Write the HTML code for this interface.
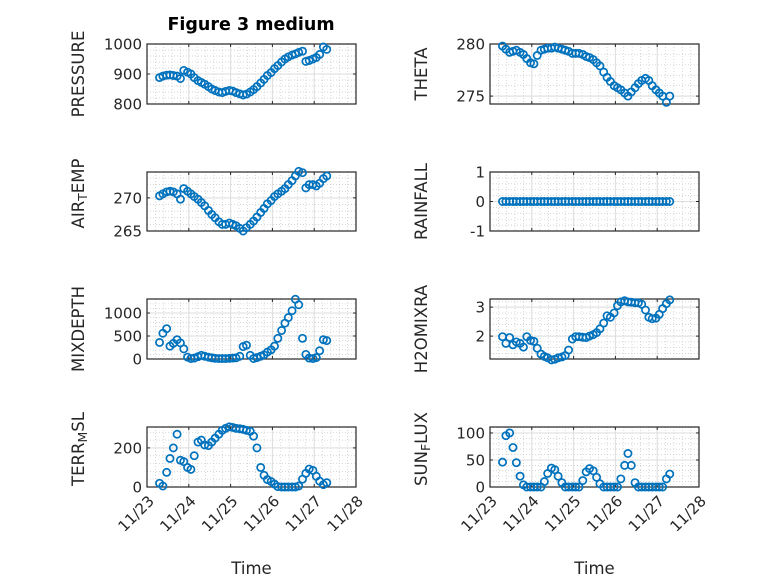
<!DOCTYPE html>
<html><head><meta charset="utf-8"><style>
html,body{margin:0;padding:0;background:#fff;}
svg{display:block;font-family:"DejaVu Sans","Liberation Sans",sans-serif;}
</style></head><body>
<svg id="fig" width="778" height="583" viewBox="0 0 778 583" xmlns="http://www.w3.org/2000/svg">
<rect width="778" height="583" fill="#fff"/>
<text x="251" y="30" text-anchor="middle" font-size="17.5" font-weight="bold" fill="#000">Figure 3 medium</text>
</svg>
<script>
const times = [0.30,0.38,0.47,0.55,0.63,0.72,0.80,0.88,0.97,1.05,1.13,1.22,1.30,1.38,1.47,1.55,1.63,1.72,1.80,1.88,1.97,2.05,2.13,2.22,2.30,2.38,2.47,2.55,2.63,2.72,2.80,2.88,2.97,3.05,3.13,3.22,3.30,3.38,3.47,3.55,3.63,3.72,3.80,3.88,3.97,4.05,4.13,4.22,4.30];
const xTickLabels = ["11/23","11/24","11/25","11/26","11/27","11/28"];
const pressure = [888,893,896,897,895,893,885,912,906,900,888,878,872,866,858,850,845,840,838,842,845,843,838,834,830,833,840,848,858,870,882,895,905,918,928,940,950,957,963,967,972,976,942,945,950,955,965,990,982];
const airTemp = [270.3,270.6,270.9,271.0,270.9,270.6,269.8,271.4,271.0,270.6,270.2,269.8,269.3,268.8,268.1,267.5,267.0,266.4,266.0,266.0,266.2,266.0,265.8,265.4,265.0,265.5,266.0,266.5,267.1,267.8,268.4,269.1,269.6,270.2,270.6,271.0,271.4,272.0,272.6,273.3,274.0,273.8,271.5,272.0,272.0,271.8,272.2,272.9,273.3];
const mixDepth = [360,560,660,280,340,420,350,220,40,10,20,50,80,60,40,25,15,10,10,10,15,20,25,60,270,300,80,10,30,60,90,150,200,280,450,620,780,900,1050,1300,1180,450,100,20,10,30,180,420,400];
const terrMsl = [19,5,75,146,200,270,137,130,100,90,160,230,240,215,212,230,250,270,290,300,308,305,300,298,295,290,285,260,200,100,60,38,28,15,2,0,0,0,0,0,5,40,70,92,85,55,30,12,22];
const theta = [279.8,279.5,279.2,279.3,279.4,279.2,279.0,278.6,278.2,278.1,278.9,279.4,279.5,279.6,279.6,279.7,279.6,279.5,279.4,279.3,279.1,279.1,279.1,279.0,278.8,278.7,278.5,278.2,277.9,277.3,276.8,276.4,276.0,275.8,275.6,275.3,275.0,275.4,275.8,276.2,276.5,276.7,276.5,276.0,275.6,275.3,275.0,274.4,275.0];
const rainfall = [0,0,0,0,0,0,0,0,0,0,0,0,0,0,0,0,0,0,0,0,0,0,0,0,0,0,0,0,0,0,0,0,0,0,0,0,0,0,0,0,0,0,0,0,0,0,0,0,0];
const h2oMix = [1.98,1.75,1.95,1.70,1.80,1.75,1.62,1.98,1.85,1.82,1.58,1.38,1.30,1.25,1.18,1.20,1.25,1.28,1.33,1.52,1.90,1.98,1.98,1.96,1.95,2.00,2.05,2.12,2.25,2.45,2.70,2.65,2.80,3.05,3.18,3.22,3.18,3.17,3.15,3.15,3.10,2.90,2.65,2.60,2.62,2.75,2.95,3.12,3.25];
const sunFlux = [46,95,100,73,45,20,4,0,0,0,0,0,10,25,35,32,20,8,0,0,0,0,0,12,28,34,30,18,6,0,0,0,0,0,15,40,62,40,8,0,0,0,0,0,0,0,0,15,24];
const pressureTicks = [800,900,1000];
const airTempTicks = [265,270];
const mixDepthTicks = [0,500,1000];
const terrTicks = [0,200];
const thetaTicks = [275,280];
const rainTicks = [-1,0,1];
const h2oTicks = [2,3];
const sunTicks = [0,50,100];

const NS = "http://www.w3.org/2000/svg";
const svg = document.getElementById('fig');
function mk(tag, attrs, parent){
  const e = document.createElementNS(NS, tag);
  for (const k in attrs) e.setAttribute(k, attrs[k]);
  (parent||svg).appendChild(e);
  return e;
}
const cols = [147, 490];
const rows = [[44,104],[172,231],[299,359],[427,487]];
const W = 209;
const panels = [
  {key:'pressure', col:0,row:0,data:pressure,ticks:pressureTicks,ylim:[800,1000],minor:20,label:[['PRESSURE','']]},
  {key:'air-temp', col:0,row:1,data:airTemp,ticks:airTempTicks,ylim:[265,273.9],minor:1,label:[['AIR',''],['T','sub'],['EMP','']]},
  {key:'mixdepth', col:0,row:2,data:mixDepth,ticks:mixDepthTicks,ylim:[0,1305],minor:100,label:[['MIXDEPTH','']]},
  {key:'terr-msl', col:0,row:3,data:terrMsl,ticks:terrTicks,ylim:[0,307],minor:40,label:[['TERR',''],['M','sub'],['SL','']]},
  {key:'theta', col:1,row:0,data:theta,ticks:thetaTicks,ylim:[274.24,280],minor:1,label:[['THETA','']]},
  {key:'rainfall', col:1,row:1,data:rainfall,ticks:rainTicks,ylim:[-1,1],minor:0.2,label:[['RAINFALL','']]},
  {key:'h2omixra', col:1,row:2,data:h2oMix,ticks:h2oTicks,ylim:[1.21,3.28],minor:0.2,label:[['H2OMIXRA','']]},
  {key:'sun-flux', col:1,row:3,data:sunFlux,ticks:sunTicks,ylim:[0,111],minor:10,label:[['SUN',''],['F','sub'],['LUX','']]}
];
panels.forEach(p=>{
  const x0 = cols[p.col], x1 = x0+W, y0 = rows[p.row][0], y1 = rows[p.row][1];
  const g = mk('g',{});
  
  
  const xs = t => x0 + t/5*W;
  const ys = v => y1 - (v-p.ylim[0])/(p.ylim[1]-p.ylim[0])*(y1-y0);
  for (let d=0; d<5; d++) for (let k=1;k<5;k++){
    const x = xs(d+k/5);
    const l = mk('line',{x1:x,x2:x,y1:y0,y2:y1,stroke:'#c8c8c8','stroke-width':0.7,'stroke-dasharray':'1,2'},g);
    
    
  }
  const m0 = Math.ceil(p.ylim[0]/p.minor)*p.minor;
  for (let v=m0; v<=p.ylim[1]+1e-9; v+=p.minor){
    const y = ys(v);
    const l = mk('line',{x1:x0,x2:x1,y1:y,y2:y,stroke:'#c8c8c8','stroke-width':0.7,'stroke-dasharray':'1,2'},g);
    
    
  }
  for (let d=1; d<5; d++){
    const x = xs(d);
    const l = mk('line',{x1:x,x2:x,y1:y0,y2:y1,stroke:'#dcdcdc','stroke-width':1},g);
    
    
    mk('line',{x1:x,x2:x,y1:y1,y2:y1-3,stroke:'#262626','stroke-width':1},g);
    mk('line',{x1:x,x2:x,y1:y0,y2:y0+3,stroke:'#262626','stroke-width':1},g);
  }
  p.ticks.forEach(v=>{
    const y = ys(v);
    const l = mk('line',{x1:x0,x2:x1,y1:y,y2:y,stroke:'#dcdcdc','stroke-width':1},g);
    
    
    mk('line',{x1:x0,x2:x0+3,y1:y,y2:y,stroke:'#262626','stroke-width':1},g);
    mk('line',{x1:x1,x2:x1-3,y1:y,y2:y,stroke:'#262626','stroke-width':1},g);
    const t = mk('text',{x:x0-5,y:y+5.5,'text-anchor':'end','font-size':15,fill:'#262626'},g);
    
    
    t.textContent = String(v);
  });
  const box = mk('rect',{x:x0,y:y0,width:W,height:y1-y0,fill:'none',stroke:'#262626','stroke-width':1.2},g);
  
  
  const lx = x0-63, ly = (y0+y1)/2 + (p.label.length>1 ? -8 : 0);
  const lab = mk('text',{x:lx,y:ly,'text-anchor':'middle','font-size':16.5,fill:'#262626',transform:'rotate(-90 '+lx+' '+ly+')'},g);
  
  
  p.label.forEach(part=>{
    const ts = mk('tspan',{},lab);
    if (part[1]==='sub'){ ts.setAttribute('baseline-shift','-25%'); ts.setAttribute('font-size','12.5'); }
    ts.textContent = part[0];
  });
  p.data.forEach((v,i)=>{
    const c = mk('circle',{cx:xs(times[i]),cy:ys(v),r:3.6,fill:'none',stroke:'#0072BD','stroke-width':1.7},g);
    
    
  });
  if (p.row===3){
    xTickLabels.forEach((s,d)=>{
      const x = xs(d)+8, y = y1+15;
      const t = mk('text',{x:x,y:y,'text-anchor':'end','font-size':15,fill:'#262626',transform:'rotate(-45 '+x+' '+y+')'},g);
      
      
      t.textContent = s;
    });
    const tt = mk('text',{x:(x0+x1)/2,y:574,'text-anchor':'middle','font-size':16.5,fill:'#262626'},g);
    
    
    tt.textContent = 'Time';
  }
});
</script>
</body></html>
